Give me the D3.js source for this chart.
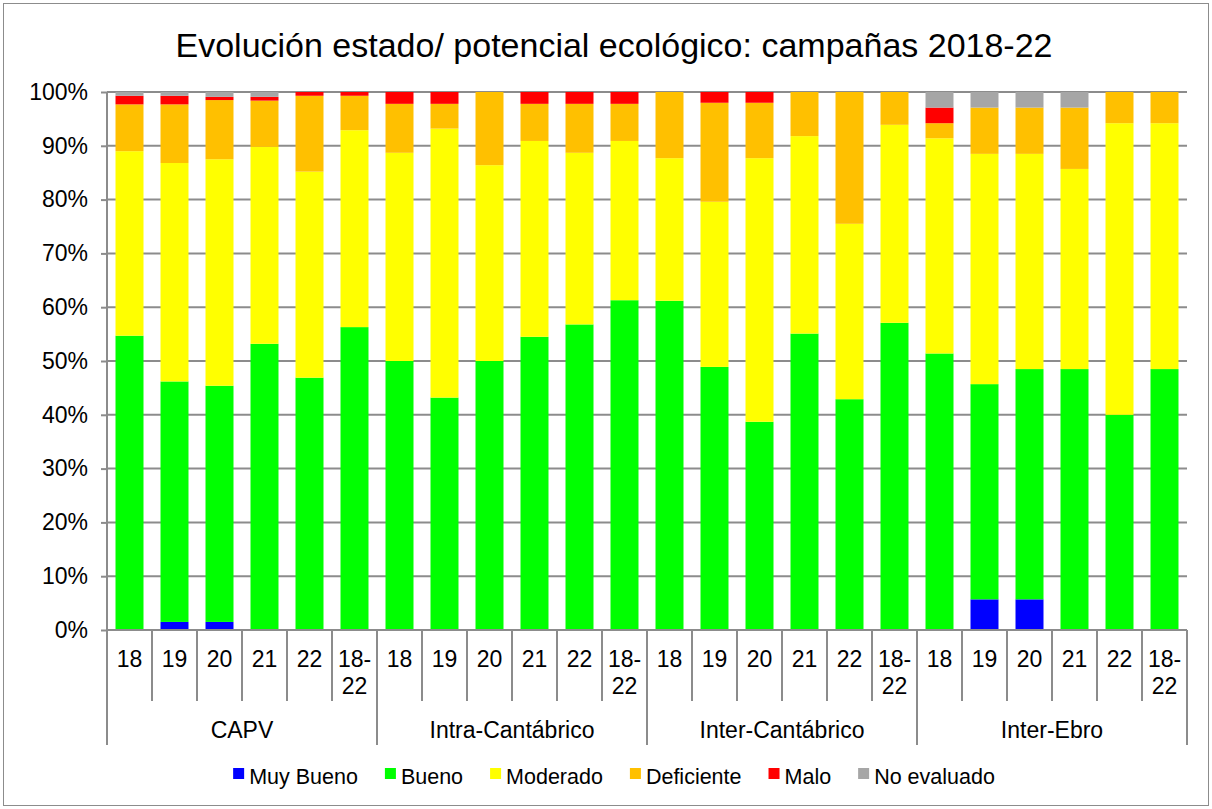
<!DOCTYPE html>
<html>
<head>
<meta charset="utf-8">
<script src="https://cdn.jsdelivr.net/npm/d3@7"></script>
<style>
  body { margin: 0; background: #fff; }
  text { font-family: "Liberation Sans", Arial, sans-serif; fill: #000; }
</style>
</head>
<body>
<div id="chart"></div>
<script>
// categories
var groups = ["CAPV", "Intra-Cantábrico", "Inter-Cantábrico", "Inter-Ebro"];
var years = ["18", "19", "20", "21", "22", "18-22"];
var seriesNames = ["Muy Bueno", "Bueno", "Moderado", "Deficiente", "Malo", "No evaluado"];
var seriesColors = ["#0000FF", "#00FF00", "#FFFF00", "#FFC000", "#FF0000", "#A6A6A6"];
var yTicks = [0, 10, 20, 30, 40, 50, 60, 70, 80, 90, 100];

// percentages, 24 bars (4 groups x 6 years)
var muyBueno   = [0, 1.5, 1.5, 0, 0, 0,   0, 0, 0, 0, 0, 0,   0, 0, 0, 0, 0, 0,   0, 5.7, 5.7, 0, 0, 0];
var bueno      = [54.7, 44.7, 43.9, 53.2, 46.9, 56.3,   50.0, 43.2, 50.0, 54.5, 56.8, 61.3,   61.2, 48.9, 38.7, 55.1, 42.9, 57.1,   51.4, 40.0, 42.8, 48.5, 40.0, 48.5];
var moderado   = [34.3, 40.6, 42.1, 36.6, 38.3, 36.6,   38.7, 50.0, 36.4, 36.4, 31.9, 29.6,   26.5, 30.7, 49.0, 36.7, 32.6, 36.8,   40.0, 42.8, 40.0, 37.2, 54.2, 45.7];
var deficiente = [8.7, 10.9, 11.0, 8.6, 14.1, 6.4,   9.1, 4.6, 13.6, 6.9, 9.1, 6.9,   12.3, 18.4, 10.3, 8.2, 24.5, 6.1,   2.8, 8.6, 8.6, 11.4, 5.8, 5.8];
var malo       = [1.6, 1.6, 0.6, 0.7, 0.7, 0.7,   2.2, 2.2, 0, 2.2, 2.2, 2.2,   0, 2.0, 2.0, 0, 0, 0,   2.9, 0, 0, 0, 0, 0];
var noEvaluado = [0.7, 0.7, 0.9, 0.9, 0, 0,   0, 0, 0, 0, 0, 0,   0, 0, 0, 0, 0, 0,   2.9, 2.9, 2.9, 2.9, 0, 0];

var seriesValues = [muyBueno, bueno, moderado, deficiente, malo, noEvaluado];

var W = 1212, H = 809;
var margin = {left: 107, right: 25, top: 92, bottom: 179};
var plotW = W - margin.left - margin.right;   // 1080
var plotH = H - margin.top - margin.bottom;   // 538

// build rows for d3.stack
var rows = [];
groups.forEach(function(g, gi) {
  years.forEach(function(y, yi) {
    var i = gi * years.length + yi;
    var r = {key: g + "|" + y, group: g, year: y};
    seriesNames.forEach(function(s, si) { r[s] = seriesValues[si][i]; });
    rows.push(r);
  });
});

var svg = d3.select("#chart").append("svg")
  .attr("width", W)
  .attr("height", H);

// outer border
svg.append("rect")
  .attr("x", 3.5).attr("y", 3.5)
  .attr("width", W - 7).attr("height", H - 7)
  .attr("fill", "#fff")
  .attr("stroke", "#8c8c8c")
  .attr("stroke-width", 1);

// title
svg.append("text")
  .attr("x", 614)
  .attr("y", 57)
  .attr("text-anchor", "middle")
  .style("font-size", "34px")
  .text("Evolución estado/ potencial ecológico: campañas 2018-22");

var x = d3.scaleBand()
  .domain(rows.map(function(d) { return d.key; }))
  .range([margin.left, margin.left + plotW])
  .paddingInner(0.378)
  .paddingOuter(0.189);

var y = d3.scaleLinear()
  .domain([0, 100])
  .range([margin.top + plotH, margin.top]);

// gridlines + y axis
var yAxis = d3.axisLeft(y)
  .tickValues(yTicks)
  .tickFormat(function(d) { return d + "%"; })
  .tickSize(6)
  .tickPadding(13);

var grid = svg.append("g").attr("class", "grid");
grid.selectAll("line")
  .data(yTicks)
  .enter().append("line")
  .attr("x1", margin.left)
  .attr("x2", margin.left + plotW)
  .attr("y1", function(d) { return y(d); })
  .attr("y2", function(d) { return y(d); })
  .attr("stroke", "#8c8c8c")
  .attr("stroke-width", 2);

var gy = svg.append("g")
  .attr("class", "axis axis--y")
  .attr("transform", "translate(" + margin.left + ",0)")
  .call(yAxis);
gy.select(".domain").remove();
gy.selectAll(".tick line").attr("stroke", "#8c8c8c").attr("stroke-width", 2);
gy.selectAll(".tick text")
  .style("font-size", "23px")
  .style("font-family", "'Liberation Sans', Arial, sans-serif")
  .attr("fill", "#000");
gy.append("line")
  .attr("x1", 0).attr("x2", 0)
  .attr("y1", margin.top).attr("y2", margin.top + plotH)
  .attr("stroke", "#8c8c8c").attr("stroke-width", 2);

// stacked bars
var stack = d3.stack().keys(seriesNames);
var stacked = stack(rows);

svg.append("g").attr("class", "bars")
  .selectAll("g")
  .data(stacked)
  .enter().append("g")
  .attr("fill", function(d, i) { return seriesColors[i]; })
  .selectAll("rect")
  .data(function(d) { return d; })
  .enter().append("rect")
  .attr("x", function(d) { return x(d.data.key); })
  .attr("width", x.bandwidth())
  .attr("y", function(d) { return y(d[1]); })
  .attr("height", function(d) { return Math.max(0, y(d[0]) - y(d[1])); });

// x axis (two levels)
var base = margin.top + plotH;
var xg = svg.append("g").attr("class", "axis axis--x");
xg.append("line")
  .attr("x1", margin.left).attr("x2", margin.left + plotW)
  .attr("y1", base).attr("y2", base)
  .attr("stroke", "#8c8c8c").attr("stroke-width", 2);

var step = x.step();
// separators between categories
xg.selectAll(".sep")
  .data(d3.range(rows.length + 1))
  .enter().append("line")
  .attr("class", "sep")
  .attr("x1", function(i) { return margin.left + i * step; })
  .attr("x2", function(i) { return margin.left + i * step; })
  .attr("y1", base)
  .attr("y2", function(i) { return i % years.length === 0 ? base + 115 : base + 71; })
  .attr("stroke", "#8c8c8c").attr("stroke-width", 2);

// year labels
var yl = xg.selectAll(".yearlab")
  .data(rows)
  .enter().append("text")
  .attr("class", "yearlab")
  .attr("text-anchor", "middle")
  .attr("x", function(d) { return x(d.key) + x.bandwidth() / 2; })
  .attr("y", base + 37)
  .style("font-size", "23px");
yl.each(function(d) {
  var t = d3.select(this);
  if (d.year.indexOf("-") > 0) {
    var parts = d.year.split("-");
    t.append("tspan").attr("x", t.attr("x")).attr("dy", 0).text(parts[0] + "-");
    t.append("tspan").attr("x", t.attr("x")).attr("dy", 27).text(parts[1]);
  } else {
    t.text(d.year);
  }
});

// group labels
xg.selectAll(".grouplab")
  .data(groups)
  .enter().append("text")
  .attr("class", "grouplab")
  .attr("text-anchor", "middle")
  .attr("x", function(g, gi) { return margin.left + (gi + 0.5) * years.length * step; })
  .attr("y", base + 108)
  .style("font-size", "23px")
  .text(function(g) { return g; });

// legend
var legend = svg.append("g").attr("class", "legend");
var items = legend.selectAll("g")
  .data(seriesNames)
  .enter().append("g");
items.append("rect")
  .attr("width", 11).attr("height", 11)
  .attr("y", -8)
  .attr("fill", function(d, i) { return seriesColors[i]; });
items.append("text")
  .attr("x", 16)
  .attr("y", 0)
  .attr("dy", "0.35em")
  .style("font-size", "21.5px")
  .text(function(d) { return d; });
var lx = 0;
var offsets = [];
items.each(function() {
  offsets.push(lx);
  var w = this.querySelector("text").getComputedTextLength();
  lx += 16 + w + 27;
});
lx -= 27;
items.attr("transform", function(d, i) { return "translate(" + offsets[i] + ",0)"; });
legend.attr("transform", "translate(" + (614 - lx / 2) + ",776)");
</script>
</body>
</html>
